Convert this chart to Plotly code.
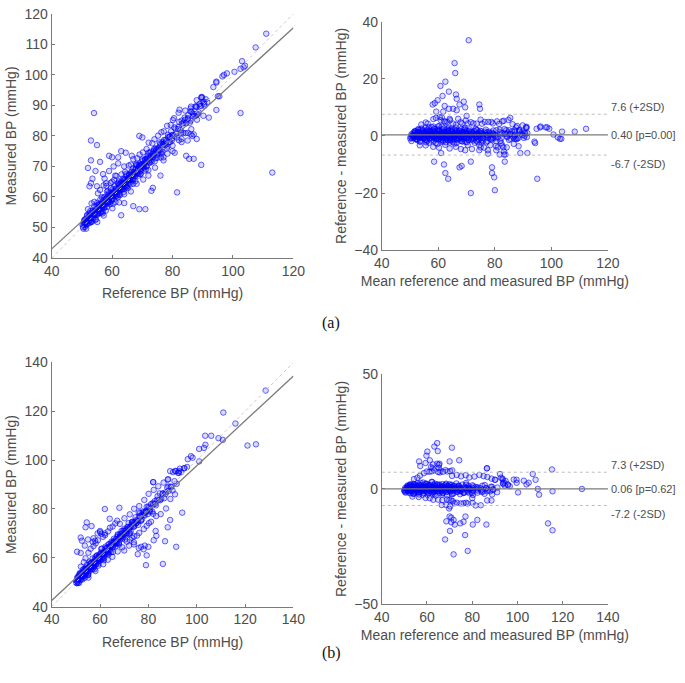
import plotly.graph_objects as go

# ======================= panel (a) data =======================
# dense core: reference BP and (measured - reference) difference
ref_core_a = [
    50.2, 50.4, 50.7, 50.9, 51.0, 51.2, 51.3, 51.5, 51.6, 51.8,
    51.9, 52.0, 52.2, 52.3, 52.5, 52.6, 52.8, 52.9, 53.1, 53.2,
    53.4, 53.5, 53.7, 53.8, 54.0, 54.1, 54.3, 54.4, 54.6, 54.7,
    54.9, 55.0, 55.2, 55.3, 55.5, 55.7, 55.8, 56.0, 56.1, 56.3,
    56.5, 56.6, 56.8, 57.0, 57.1, 57.3, 57.5, 57.6, 57.8, 58.0,
    58.2, 58.3, 58.5, 58.7, 58.9, 59.0, 59.2, 59.4, 59.6, 59.7,
    59.9, 60.1, 60.3, 60.4, 60.6, 60.8, 61.0, 61.2, 61.3, 61.5,
    61.7, 61.9, 62.1, 62.2, 62.4, 62.6, 62.8, 63.0, 63.2, 63.3,
    63.5, 63.7, 63.9, 64.1, 64.3, 64.5, 64.6, 64.8, 65.0, 65.2,
    65.4, 65.6, 65.8, 66.0, 66.2, 66.4, 66.6, 66.8, 67.0, 67.2,
    67.4, 67.6, 67.8, 68.0, 68.2, 68.4, 68.7, 68.9, 69.1, 69.3,
    69.5, 69.8, 70.0, 70.2, 70.4, 70.7, 70.9, 71.1, 71.4, 71.6,
    71.8, 72.1, 72.3, 72.6, 72.8, 73.1, 73.3, 73.6, 73.8, 74.1,
    74.4, 74.6, 74.9, 75.2, 75.5, 75.7, 76.0, 76.3, 76.6, 76.9,
    77.2, 77.5, 77.8, 78.1, 78.5, 78.8, 79.1, 79.5, 79.8, 80.2,
    80.6, 81.0, 81.4, 81.8, 82.2, 82.7, 83.1, 83.6, 84.1, 84.6,
    85.1, 85.7, 86.3, 86.9, 87.6, 88.3, 89.0, 89.8, 90.6, 91.5,
    50.5, 50.8, 51.1, 51.4, 51.7, 52.1, 52.4, 52.7, 53.0, 53.3,
    53.6, 53.9, 54.2, 54.5, 54.8, 55.1, 55.4, 55.9, 56.2, 56.4,
    56.7, 56.9, 57.2, 57.4, 57.7, 57.9, 58.1, 58.4, 58.6, 58.8,
    59.1, 59.3, 59.5, 59.8, 60.0, 60.2, 60.5, 60.7, 60.9, 61.1,
    61.4, 61.6, 61.8, 62.0, 62.3, 62.5, 62.7, 62.9, 63.1, 63.4,
    63.6, 63.8, 64.0, 64.2, 64.4, 64.7, 64.9, 65.1, 65.3, 65.5,
    65.7, 65.9, 66.1, 66.3, 66.5, 66.7, 66.9, 67.1, 67.3, 67.5,
    67.7, 67.9, 68.1, 68.3, 68.6, 68.8, 69.0, 69.2, 69.4, 69.7,
    70.1, 70.5, 70.8, 71.2, 71.5, 72.0, 72.4, 72.9, 73.4, 73.9,
    74.3, 74.8, 75.3, 75.9, 76.4, 77.0, 77.7, 78.3, 79.0, 79.7,
    50.6, 51.0, 51.5, 52.0, 52.5, 53.0, 53.4, 53.9, 54.4, 54.9,
    55.4, 55.9, 56.4, 56.9, 57.4, 57.9, 58.4, 58.9, 59.4, 59.9,
    60.4, 60.9, 61.4, 61.9, 62.4, 62.9, 63.4, 63.9, 64.4, 64.9,
    65.4, 65.9, 66.4, 66.9, 67.4, 67.9, 68.4, 68.9, 69.4, 69.9,
    70.4, 70.9, 71.4, 71.9, 72.4, 72.9, 73.4, 73.9, 74.4, 74.9,
    75.5, 76.1, 76.7, 77.3, 77.9, 78.5, 79.2, 79.9, 80.6, 81.3,
    82.0, 82.8, 83.6, 84.4, 85.2, 86.0, 86.8, 87.7, 88.6, 89.5,
]
diff_core_a = [
    0.6, -0.3, 1.2, 0.1, -0.8, 0.9, 1.6, -0.2, 0.4, 2.1,
    -0.6, 0.8, 0.2, 1.4, -1.1, 0.5, 2.6, -0.4, 1.0, 0.0,
    -1.5, 1.8, 0.3, -0.7, 1.1, 2.9, -0.1, 0.7, -1.9, 1.3,
    0.4, -0.9, 2.2, 0.9, -0.3, 1.6, 0.2, -1.3, 3.1, 0.6,
    -0.5, 1.0, -2.2, 0.3, 1.9, -0.8, 0.7, 2.4, -0.2, 1.2,
    0.1, -1.6, 0.9, 2.0, -0.4, 0.5, -1.0, 1.5, 3.3, -0.6,
    0.8, 0.2, -2.5, 1.1, -0.2, 2.7, 0.6, -0.9, 1.4, 0.0,
    -1.3, 0.9, 2.1, -0.5, 0.4, -2.0, 1.7, 0.3, -0.7, 1.0,
    2.5, -0.3, 0.6, -1.5, 1.3, 0.1, -0.9, 2.2, 0.5, -2.3,
    0.9, 1.6, -0.4, 0.2, -1.2, 1.9, 0.7, -0.1, -2.7, 1.1,
    0.4, -0.8, 1.4, 2.8, -0.5, 0.3, -1.7, 0.9, 1.8, -0.2,
    -1.0, 0.6, 2.3, -0.6, 0.1, -2.1, 1.2, 0.5, -1.4, 0.8,
    1.7, -0.3, -0.9, 0.4, 2.0, -1.6, 0.7, -0.4, 1.3, -2.4,
    0.2, 1.0, -1.2, 0.6, -0.2, 2.2, -0.7, 0.9, -1.8, 0.3,
    1.5, -0.5, 0.4, -2.2, 1.1, -0.9, 0.6, 2.0, -1.3, 0.1,
    -0.6, 1.4, -1.9, 0.5, 2.4, -0.8, 0.9, -2.6, 1.2, -0.3,
    0.7, -1.4, 1.6, -0.5, 2.0, -1.1, 0.8, 2.8, -0.7, -0.4,
    -0.9, 1.7, 0.3, -1.8, 2.4, 0.9, -0.2, 1.4, -1.1, 0.7,
    2.0, -0.4, 1.1, -2.0, 0.6, 3.0, -0.7, 1.8, 0.2, -1.4,
    1.2, -0.1, 2.6, -0.9, 0.5, -2.4, 1.5, 0.1, 3.4, -0.5,
    0.8, -1.7, 1.9, 0.4, -0.6, 2.3, -1.2, 0.9, 0.3, -2.8,
    1.4, 0.0, -0.8, 2.6, -1.5, 0.6, 1.3, -0.3, 2.0, -1.0,
    0.5, -2.2, 1.6, 0.2, -0.7, 2.9, -1.6, 0.8, 0.3, -1.2,
    1.8, -0.2, -2.0, 1.0, 0.4, -0.9, 2.4, -1.4, 0.7, 0.0,
    -2.5, 1.3, -0.5, 2.1, 0.6, -1.1, 1.5, -0.3, -1.9, 0.9,
    1.7, -0.8, 0.3, -2.2, 1.2, 2.5, -1.3, 0.6, -0.4, 1.8,
    -1.6, 0.7, -0.9, 1.5, -2.3, 0.4, 1.0, -1.8, 0.8, -0.6,
    0.3, 1.5, -0.7, 0.9, 2.2, -1.2, 0.5, 1.1, -0.3, 1.9,
    -0.9, 0.7, 1.6, -1.7, 0.2, 1.3, -0.5, 2.3, 0.8, -1.1,
    1.4, -0.2, 0.6, -2.0, 1.7, 0.1, -0.8, 2.0, 0.4, -1.4,
    0.9, -0.4, 1.8, -1.0, 0.3, 2.5, -0.6, 1.2, -1.9, 0.7,
    -0.3, 1.5, -1.3, 0.5, 2.1, -0.9, 0.8, -0.1, 1.6, -2.1,
    0.6, -1.5, 1.3, 0.2, -0.7, 1.9, -1.2, 0.4, 2.2, -0.5,
    1.0, -1.8, 0.7, -0.3, 1.6, -1.0, 0.5, 2.0, -0.8, 0.3,
]
# scattered points (halo, outliers, high range): reference / measured
ref_out_a = [
    52.0, 53.2, 54.1, 55.3, 56.0, 57.2, 58.1, 56.6, 58.3, 59.5,
    60.7, 61.4, 62.2, 63.1, 64.3, 65.5, 66.2, 67.0, 68.3, 69.1,
    70.2, 71.4, 72.1, 73.3, 74.0, 75.2, 76.3, 77.1, 78.2, 79.4,
    80.1, 82.0, 84.2, 86.1, 88.0, 90.3, 82.3, 80.5,
    55.1, 57.2, 60.1, 62.3, 64.0, 66.2, 68.1, 70.3, 72.0, 74.2,
    76.1, 78.3, 80.0, 82.1, 84.3, 86.2, 88.1, 90.2, 85.0, 83.0,
    86.0, 87.0, 77.0, 80.7,
    54.0, 53.0, 55.0, 52.0, 53.0, 54.5, 53.5, 53.0, 52.5, 55.0,
    56.0, 57.0, 59.0, 60.0, 62.0, 63.0, 64.5, 59.0, 61.0, 60.5,
    69.0, 70.0, 66.5, 58.0, 57.5, 60.0, 62.0, 64.0,
    113.0, 102.5, 89.5, 87.0, 85.5, 84.5, 81.5, 80.0, 76.0, 73.0,
    73.5, 71.0, 69.0, 67.0, 63.0, 64.0, 92.0, 94.5, 88.0, 86.5,
    83.0, 85.0, 77.0, 72.0,
    94.5, 94.5, 93.5, 95.0, 96.5, 97.0, 98.0, 100.5, 102.5, 103.0,
    103.5, 104.0, 107.5, 111.0, 95.5, 86.0, 87.0, 88.0, 89.0, 90.0,
    90.5, 91.0, 88.0, 87.5, 86.0, 85.0, 84.0, 83.0, 89.5, 89.6,
]
meas_out_a = [
    56.0, 57.9, 58.4, 61.2, 62.3, 63.8, 63.6, 59.9, 61.7, 64.6,
    65.6, 66.9, 65.1, 67.4, 68.2, 70.3, 70.6, 72.4, 72.7, 73.9,
    74.6, 75.7, 77.8, 77.6, 78.9, 80.1, 81.2, 81.5, 83.3, 83.6,
    85.2, 87.6, 88.3, 89.6, 91.7, 91.2, 88.6, 85.8,
    51.8, 53.9, 56.3, 58.2, 60.9, 61.8, 64.3, 65.7, 68.8, 69.6,
    72.9, 74.2, 76.8, 78.6, 80.9, 82.2, 85.3, 86.6, 78.5, 79.0,
    80.5, 80.5, 73.0, 74.5,
    87.5, 78.5, 77.0, 69.5, 72.0, 68.5, 66.0, 64.5, 63.5, 63.5,
    71.5, 67.5, 73.5, 73.0, 73.0, 75.0, 74.5, 68.5, 67.0, 70.0,
    80.0, 79.5, 73.5, 64.5, 66.0, 65.0, 71.0, 70.0,
    68.0, 87.5, 70.5, 72.5, 72.5, 73.5, 61.5, 75.0, 67.0, 62.0,
    63.0, 56.0, 56.0, 57.0, 54.0, 58.0, 86.0, 88.5, 79.0, 80.0,
    78.0, 81.0, 72.0, 67.0,
    97.5, 97.8, 96.0, 93.0, 99.5, 100.0, 100.5, 101.0, 102.0, 104.5,
    102.5, 103.0, 109.0, 113.5, 93.0, 88.0, 87.0, 89.5, 90.5, 91.0,
    90.5, 92.0, 87.0, 86.5, 89.0, 85.5, 86.0, 85.0, 92.5, 92.8,
]

# ======================= panel (b) data =======================
ref_core_b = [
    50.1, 50.3, 50.6, 50.8, 50.9, 51.1, 51.4, 51.5, 51.7, 51.9,
    52.0, 52.2, 52.4, 52.5, 52.7, 52.9, 53.0, 53.2, 53.4, 53.6,
    53.7, 53.9, 54.1, 54.2, 54.4, 54.6, 54.8, 54.9, 55.1, 55.3,
    55.5, 55.6, 55.8, 56.0, 56.2, 56.4, 56.5, 56.7, 56.9, 57.1,
    57.3, 57.5, 57.7, 57.9, 58.0, 58.2, 58.4, 58.6, 58.8, 59.0,
    59.2, 59.4, 59.6, 59.8, 60.0, 60.2, 60.4, 60.6, 60.8, 61.0,
    61.2, 61.4, 61.6, 61.8, 62.0, 62.3, 62.5, 62.7, 62.9, 63.1,
    63.4, 63.6, 63.8, 64.0, 64.3, 64.5, 64.7, 65.0, 65.2, 65.4,
    65.7, 65.9, 66.1, 66.4, 66.6, 66.9, 67.1, 67.4, 67.6, 67.9,
    68.1, 68.4, 68.7, 68.9, 69.2, 69.5, 69.7, 70.0, 70.3, 70.6,
    70.9, 71.2, 71.5, 71.8, 72.1, 72.4, 72.7, 73.0, 73.4, 73.7,
    74.0, 74.4, 74.7, 75.1, 75.4, 75.8, 76.2, 76.5, 76.9, 77.3,
    77.7, 78.1, 78.5, 78.9, 79.3, 79.8, 80.2, 80.7, 81.1, 81.6,
    82.1, 82.6, 83.1, 83.6, 84.2, 84.7, 85.3, 85.9, 86.5, 87.1,
    87.8, 88.5, 89.2, 90.0, 90.8, 91.7, 92.6, 93.6, 94.7, 96.0,
    50.4, 50.7, 51.0, 51.3, 51.6, 52.1, 52.6, 53.1, 53.5, 53.8,
    54.0, 54.3, 54.7, 55.0, 55.4, 55.7, 56.1, 56.3, 56.6, 57.0,
    57.4, 57.8, 58.1, 58.5, 58.9, 59.3, 59.7, 60.1, 60.5, 60.9,
    61.3, 61.7, 62.2, 62.6, 63.0, 63.5, 63.9, 64.4, 64.9, 65.3,
    65.8, 66.3, 66.8, 67.3, 67.8, 68.3, 68.8, 69.4, 70.1, 70.8,
    71.6, 72.4, 73.2, 74.1, 75.0, 76.0, 77.0, 78.1, 79.2, 80.4,
    50.5, 51.0, 51.6, 52.2, 52.8, 53.3, 53.9, 54.5, 55.1, 55.7,
    56.3, 56.9, 57.5, 58.1, 58.7, 59.3, 59.9, 60.5, 61.1, 61.7,
    62.3, 62.9, 63.5, 64.1, 64.7, 65.3, 65.9, 66.5, 67.1, 67.7,
    68.3, 68.9, 69.5, 70.1, 70.7, 71.3, 72.0, 72.7, 73.4, 74.1,
    74.9, 75.7, 76.5, 77.3, 78.1, 79.0, 79.9, 80.8, 81.8, 82.8,
    83.8, 84.9, 86.0, 87.1, 88.3, 89.5,
]
diff_core_b = [
    0.4, -0.6, 1.1, 0.0, -1.2, 0.7, 1.5, -0.3, 0.2, -0.9,
    1.8, 0.5, -0.4, 1.2, -1.6, 0.3, 2.2, -0.7, 0.9, -0.1,
    -1.9, 1.4, 0.2, -0.8, 0.8, 2.5, -0.2, 0.6, -2.1, 1.0,
    0.3, -1.1, 1.9, 0.7, -0.5, 1.3, 0.1, -1.5, 2.8, 0.4,
    -0.7, 0.9, -2.4, 0.2, 1.6, -1.0, 0.5, 2.1, -0.3, 1.1,
    0.0, -1.8, 0.8, 1.7, -0.6, 0.4, -1.2, 1.3, 3.0, -0.8,
    0.6, 0.1, -2.6, 0.9, -0.4, 2.3, 0.4, -1.1, 1.2, -0.2,
    -1.5, 0.7, 1.8, -0.7, 0.2, -2.2, 1.4, 0.1, -0.9, 0.8,
    2.1, -0.5, 0.4, -1.7, 1.0, -0.1, -1.1, 1.9, 0.3, -2.5,
    0.6, 1.3, -0.6, 0.0, -1.4, 1.6, 0.5, -0.3, -2.8, 0.9,
    0.2, -1.0, 1.1, 2.4, -0.7, 0.1, -1.9, 0.6, 1.4, -0.5,
    -1.3, 0.3, 1.9, -0.9, -0.2, -2.3, 0.9, 0.2, -1.7, 0.4,
    1.3, -0.6, -1.2, 0.1, 1.6, -1.9, 0.3, -0.8, 0.9, -2.6,
    -0.2, 0.6, -1.6, 0.2, -0.6, 1.7, -1.1, 0.4, -2.1, -0.3,
    1.0, -1.0, -0.1, -2.4, 0.6, -1.4, 2.2, 1.5, 2.0, 1.2,
    -0.8, 1.5, 0.2, -1.6, 2.1, 0.8, -0.3, 1.2, -1.0, 0.5,
    1.8, -0.5, 0.9, -2.1, 0.4, 2.7, -0.8, 1.6, 0.1, -1.5,
    1.0, -0.2, 2.3, -1.0, 0.3, -2.5, 1.3, 0.0, 3.1, -0.6,
    0.6, -1.8, 1.7, 0.2, -0.7, 2.0, -1.3, 0.7, 0.1, -2.9,
    1.2, -0.1, -0.9, 2.3, -1.6, 0.4, 1.1, -0.4, 1.8, -1.1,
    0.3, -2.3, 1.4, 0.0, -0.8, 2.6, -1.7, 0.6, 0.1, -1.3,
    -0.4, 0.8, 1.6, -1.0, 0.3, 2.0, -0.6, 1.1, -1.7, 0.5,
    1.4, -0.3, -1.3, 0.9, 2.3, -0.8, 0.2, 1.7, -1.5, 0.6,
    -0.2, 1.2, -2.1, 0.4, 1.9, -0.9, 0.7, -0.4, 1.5, -1.8,
    0.3, 2.1, -1.1, 0.8, -0.5, 1.3, -2.2, 0.1, 1.0, -1.2,
    0.5, -0.8, 1.8, -1.6, 0.2, -0.3, 1.1, -1.9, 0.6, -0.7,
    1.4, -1.3, 0.3, -1.0, 0.9, -0.4,
]
ref_out_b = [
    52.1, 53.3, 54.0, 55.2, 56.1, 57.3, 58.2, 59.1, 60.0, 60.6,
    61.2, 62.1, 63.3, 64.1, 65.2, 66.3, 67.1, 68.2, 70.1, 72.3,
    74.1, 76.2, 78.3, 80.1, 82.2, 84.1, 86.3, 88.2, 82.0, 89.0,
    90.2, 91.1, 92.3, 93.0,
    55.2, 58.1, 61.3, 63.2, 65.1, 67.3, 69.2, 71.1, 72.3, 73.2,
    74.1, 75.3, 76.2, 78.1, 79.3, 80.2, 81.1, 83.2, 85.1, 87.3,
    89.1,
    54.5, 54.0, 56.5, 52.0, 52.5, 50.5, 52.0, 53.7, 57.0, 58.0,
    60.0, 62.0, 62.0, 68.0, 64.0, 57.3, 55.0, 59.0,
    86.0, 91.5, 79.0, 79.3, 86.9, 80.0, 82.2, 83.3, 83.0, 88.0,
    89.0, 94.0, 91.0, 75.6, 78.5, 78.0, 74.0, 74.0, 76.0, 77.0,
    82.0, 72.0, 70.0,
    128.5, 111.0, 116.0, 121.0, 124.5, 103.5, 106.0, 109.0, 110.8, 103.0,
    103.6, 101.0, 97.6, 98.3, 96.3, 101.0, 95.0, 92.7, 91.4, 82.0,
    88.0,
]
meas_out_b = [
    56.4, 58.2, 59.8, 62.1, 63.7, 64.8, 65.9, 67.2, 70.5, 69.8,
    68.6, 69.3, 70.8, 72.3, 72.8, 74.1, 75.2, 73.9, 76.2, 77.8,
    80.1, 81.2, 83.7, 86.2, 87.8, 89.3, 90.8, 92.2, 91.0, 95.5,
    95.1, 95.6, 94.8, 96.5,
    51.9, 54.6, 57.4, 59.2, 60.4, 62.6, 64.3, 66.6, 67.4, 68.2,
    68.8, 69.1, 70.2, 71.8, 73.1, 74.2, 74.8, 77.1, 77.9, 80.2,
    84.1,
    74.5, 72.5, 73.0, 68.3, 67.0, 62.5, 62.0, 65.0, 66.5, 67.0,
    71.0, 70.0, 80.0, 80.5, 76.0, 68.0, 67.5, 70.0,
    57.5, 64.5, 57.0, 61.0, 66.8, 64.5, 67.2, 69.0, 71.0, 72.5,
    75.5, 78.5, 86.0, 61.5, 65.0, 63.5, 66.4, 65.5, 64.0, 64.5,
    78.0, 65.0, 63.0,
    128.5, 119.5, 115.0, 106.0, 106.5, 110.0, 110.0, 109.0, 108.3, 105.0,
    106.3, 104.6, 101.6, 101.0, 100.4, 99.5, 96.7, 95.5, 95.5, 91.0,
    92.0,
]

# fitted line [intercept, slope] and Bland-Altman statistics
fit_a = [6.75, 0.906]
fit_b = [5.7, 0.92]
ba_a = {"bias": 0.40, "upper": 7.6, "lower": -6.7, "p": "0.00"}
ba_b = {"bias": 0.06, "upper": 7.3, "lower": -7.2, "p": "0.62"}
range_a = [40, 120]
range_b = [40, 140]
ba_yrange_a = [-40, 40]
ba_yrange_b = [-50, 50]
ticks_a = [40, 60, 80, 100, 120]
ticks_a_y = [40, 50, 60, 70, 80, 90, 100, 110, 120]
ticks_b = [40, 60, 80, 100, 120, 140]
ba_ticks_a = [-40, -20, 0, 20, 40]
ba_ticks_b = [-50, 0, 50]

W, H = 685, 683
BLUE_FILL = "rgba(0,0,255,0.14)"
BLUE_EDGE = "rgba(0,0,255,0.6)"
GRAY_LINE = "#7a7a7a"
TXT = "#4d4d4d"
FONT = "Liberation Sans, Arial, sans-serif"

fig = go.Figure()


def marker():
    return dict(symbol="circle", size=5.5, color=BLUE_FILL,
                line=dict(color=BLUE_EDGE, width=1))


def add_panel(ref_core, diff_core, ref_out, meas_out, fit, ba, rng, n):
    xs = "x" if n == 1 else f"x{n}"
    ys = "y" if n == 1 else f"y{n}"
    xs2 = f"x{n+1}"
    ys2 = f"y{n+1}"
    ref = list(ref_core) + list(ref_out)
    meas = [r + d for r, d in zip(ref_core, diff_core)] + list(meas_out)
    # scatter plot
    fig.add_trace(go.Scatter(x=ref, y=meas, mode="markers", marker=marker(),
                             xaxis=xs, yaxis=ys, showlegend=False))
    fig.add_trace(go.Scatter(x=rng, y=rng, mode="lines",
                             line=dict(color="#c8c8c8", width=1, dash="dot"),
                             xaxis=xs, yaxis=ys, showlegend=False))
    fig.add_trace(go.Scatter(x=rng, y=[fit[0] + fit[1] * v for v in rng], mode="lines",
                             line=dict(color=GRAY_LINE, width=1.3),
                             xaxis=xs, yaxis=ys, showlegend=False))
    # Bland-Altman plot
    mean = [(r + m) / 2 for r, m in zip(ref, meas)]
    diff = [m - r for r, m in zip(ref, meas)]
    fig.add_trace(go.Scatter(x=mean, y=diff, mode="markers", marker=marker(),
                             xaxis=xs2, yaxis=ys2, showlegend=False))
    for key, dash, col, w in [("upper", "dot", "#bdbdbd", 1), ("lower", "dot", "#bdbdbd", 1),
                              ("bias", "solid", GRAY_LINE, 1.3)]:
        fig.add_trace(go.Scatter(x=rng, y=[ba[key], ba[key]], mode="lines",
                                 line=dict(color=col, width=w, dash=dash),
                                 xaxis=xs2, yaxis=ys2, showlegend=False))
    fnt = dict(size=11, color=TXT, family=FONT)
    fig.add_annotation(x=rng[1], y=ba["upper"], xref=xs2, yref=ys2,
                       text=f"{ba['upper']:.1f} (+2SD)", showarrow=False,
                       xanchor="left", yanchor="middle", yshift=7, xshift=1, font=fnt)
    fig.add_annotation(x=rng[1], y=ba["bias"], xref=xs2, yref=ys2,
                       text=f"{ba['bias']:.2f} [p={ba['p']}]", showarrow=False,
                       xanchor="left", yanchor="middle", xshift=1, font=fnt)
    fig.add_annotation(x=rng[1], y=ba["lower"], xref=xs2, yref=ys2,
                       text=f"{ba['lower']:.1f} (-2SD)", showarrow=False,
                       xanchor="left", yanchor="middle", yshift=-9, xshift=1, font=fnt)


add_panel(ref_core_a, diff_core_a, ref_out_a, meas_out_a, fit_a, ba_a, range_a, 1)
add_panel(ref_core_b, diff_core_b, ref_out_b, meas_out_b, fit_b, ba_b, range_b, 3)


def px_x(a, b):
    return [a / W, b / W]


def px_y(top, bottom):
    return [1 - bottom / H, 1 - top / H]


axis_common = dict(showgrid=False, zeroline=False, showline=True, linecolor=GRAY_LINE,
                   linewidth=1, ticks="inside", ticklen=3, tickcolor=GRAY_LINE,
                   tickfont=dict(size=14, color=TXT, family=FONT),
                   title_font=dict(size=14, color=TXT, family=FONT), mirror=False)

fig.update_layout(
    width=W, height=H, margin=dict(l=0, r=0, t=0, b=0),
    paper_bgcolor="white", plot_bgcolor="white",
    xaxis=dict(domain=px_x(45, 294), range=range_a, tickvals=ticks_a, anchor="y",
               title=dict(text="Reference BP (mmHg)", standoff=10), **axis_common),
    yaxis=dict(domain=px_y(6, 256), range=range_a, tickvals=ticks_a_y, anchor="x",
               title=dict(text="Measured BP (mmHg)", standoff=4), **axis_common),
    xaxis2=dict(domain=px_x(385, 618), range=range_a, tickvals=ticks_a, anchor="y2",
                title=dict(text="Mean reference and measured BP (mmHg)", standoff=6), **axis_common),
    yaxis2=dict(domain=px_y(14, 248), range=ba_yrange_a, tickvals=ba_ticks_a, anchor="x2",
                title=dict(text="Reference - measured BP (mmHg)", standoff=4), **axis_common),
    xaxis3=dict(domain=px_x(45, 294), range=range_b, tickvals=ticks_b, anchor="y3",
                title=dict(text="Reference BP (mmHg)", standoff=10), **axis_common),
    yaxis3=dict(domain=px_y(363, 613), range=range_b, tickvals=ticks_b, anchor="x3",
                title=dict(text="Measured BP (mmHg)", standoff=4), **axis_common),
    xaxis4=dict(domain=px_x(385, 618), range=range_b, tickvals=ticks_b, anchor="y4",
                title=dict(text="Mean reference and measured BP (mmHg)", standoff=6), **axis_common),
    yaxis4=dict(domain=px_y(375, 610), range=ba_yrange_b, tickvals=ba_ticks_b, anchor="x4",
                title=dict(text="Reference - measured BP (mmHg)", standoff=4), **axis_common),
)

serif = dict(size=16, color="#111", family="Liberation Serif, Times New Roman, serif")
fig.add_annotation(x=333 / W, y=1 - 323 / H, xref="paper", yref="paper", text="(a)",
                   showarrow=False, font=serif)
fig.add_annotation(x=333 / W, y=1 - 672 / H, xref="paper", yref="paper", text="(b)",
                   showarrow=False, font=serif)

fig.write_html("out.html")
